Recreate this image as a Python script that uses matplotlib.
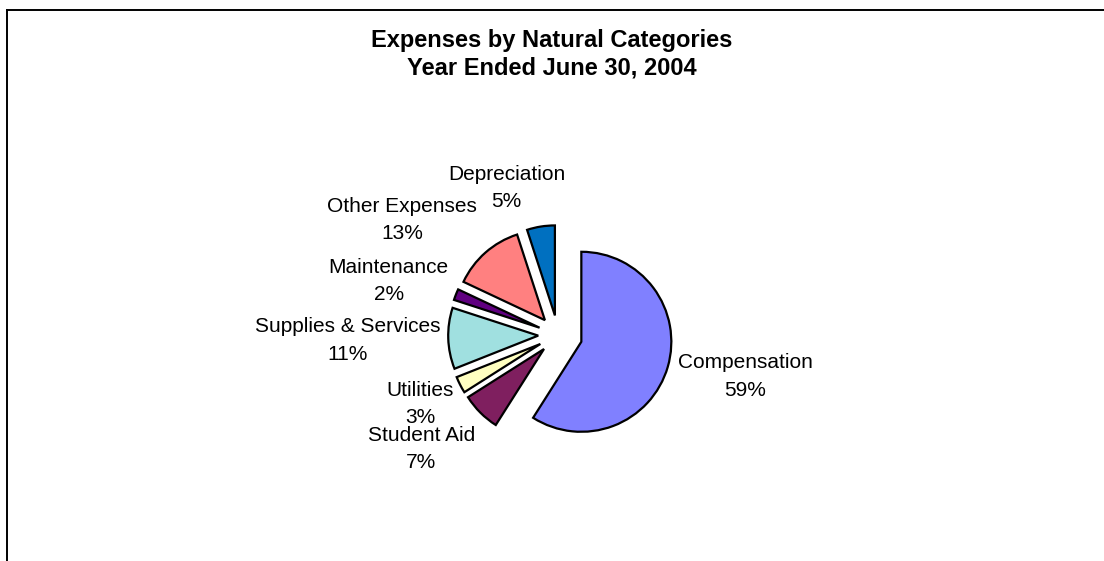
import matplotlib
matplotlib.use("Agg")
from matplotlib import pyplot as plt
from matplotlib.lines import Line2D

plt.rcParams['font.family'] = ['Liberation Sans', 'DejaVu Sans']

categories = ["Compensation", "Student Aid", "Utilities", "Supplies & Services",
              "Maintenance", "Other Expenses", "Depreciation"]
shares = [59, 7, 3, 11, 2, 13, 5]
colors = ["#8080FF", "#7F1F5F", "#FFFFC0", "#A0E0E0", "#600080", "#FF8080", "#0070C0"]
explode = [0.27, 0.22, 0.22, 0.22, 0.22, 0.22, 0.22]

# label centres, in pie radius units
label_pos = [(2.08, -0.46), (-1.52, -1.27), (-1.53, -0.77), (-2.34, -0.06),
             (-1.88, 0.60), (-1.73, 1.28), (-0.57, 1.63)]

W, H = 1104, 561
cx, cy, r = 558, 335, 90

fig = plt.figure(figsize=(11.04, 5.61), dpi=100)
ax = fig.add_axes([0, 0, 1, 1])

ax.pie(shares, colors=colors, explode=explode, startangle=90, counterclock=False,
       radius=1, center=(0, 0), frame=True,
       wedgeprops=dict(edgecolor='black', linewidth=1.6, joinstyle='miter'))
ax.set_aspect('equal')
ax.set_xlim(-cx / r, (W - cx) / r)
ax.set_ylim(-(H - cy) / r, cy / r)
ax.axis('off')

for name, val, (lx, ly) in zip(categories, shares, label_pos):
    ax.text(lx, ly, f"{name}\n{val}%", ha='center', va='center',
            fontsize=15, linespacing=1.55, color='black')

fig.text(0.5, 1 - 41 / H, "Expenses by Natural Categories", ha='center', va='center',
         fontsize=17, fontweight='bold')
fig.text(0.5, 1 - 68 / H, "Year Ended June 30, 2004", ha='center', va='center',
         fontsize=17, fontweight='bold')

# chart frame (cropped on the right and bottom)
x0 = 6.5 / W
y0 = 1 - 9.5 / H
fig.add_artist(Line2D([x0, x0], [0, y0], color='black', lw=1.4, transform=fig.transFigure))
fig.add_artist(Line2D([x0, 1], [y0, y0], color='black', lw=1.4, transform=fig.transFigure))

fig.savefig("out.png", dpi=100, facecolor='white')
